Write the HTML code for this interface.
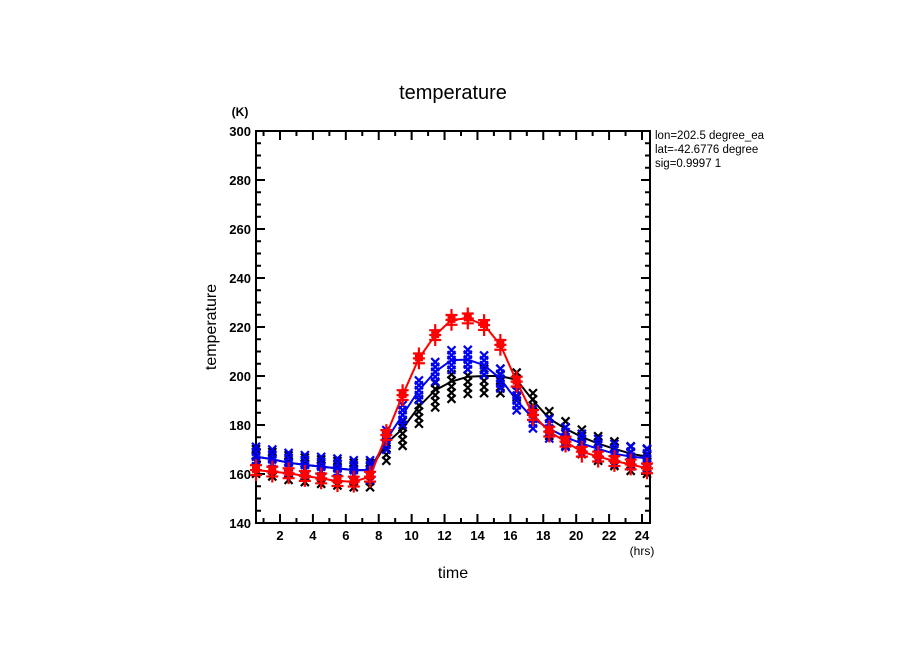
<!DOCTYPE html>
<html><head><meta charset="utf-8"><style>
html,body{margin:0;padding:0;background:#fff;}
svg{display:block;font-family:"Liberation Sans",sans-serif;}
</style></head><body>
<svg id="chart" width="904" height="654" viewBox="0 0 904 654">
<defs><clipPath id="infoclip"><rect x="650" y="125" width="129" height="50"/></clipPath></defs>
<text x="453" y="99" font-size="20" text-anchor="middle">temperature</text>
<text x="240" y="116" font-size="12" text-anchor="middle" font-weight="bold">(K)</text>
<text x="642" y="555" font-size="12" text-anchor="middle">(hrs)</text>
<text x="453" y="578" font-size="16" text-anchor="middle">time</text>
<text x="0" y="0" font-size="16" text-anchor="middle" transform="translate(216,327) rotate(-90)">temperature</text>
<g font-size="11.5" clip-path="url(#infoclip)">
<text x="655" y="139">lon=202.5 degree_ea</text>
<text x="655" y="153">lat=-42.6776 degree</text>
<text x="655" y="167">sig=0.9997 1</text>
</g>
<g id="axes"></g>
<g id="marks"></g>
</svg>
<script>
const hours=[0.5,1.5,2.5,3.5,4.5,5.5,6.5,7.5,8.5,9.5,10.5,11.5,12.5,13.5,14.5,15.5,16.5,17.5,18.5,19.5,20.5,21.5,22.5,23.5,24.5];
const redVals=[161.6,161.0,160.3,159.2,158.2,157.1,156.9,158.9,175.9,192.2,207.2,216.7,222.9,223.5,220.8,212.7,197.7,184.1,177.3,173.2,169.1,167.1,165.3,163.9,162.3];
const blueVals=[167.1,166.0,164.6,163.7,163.0,162.3,161.6,161.6,173.9,184.1,194.2,201.7,206.5,206.7,204.4,198.9,190.0,182.6,178.5,175.1,172.4,170.3,168.3,167.1,166.4];
const blackVals=[167.1,166.0,164.6,163.7,163.0,162.3,161.6,161.6,172.4,178.5,187.5,194.2,197.7,199.7,200.0,200.0,198.4,190.0,182.6,178.5,175.1,172.4,170.3,168.3,167.1];
const redSpread=[-2,0,2];
const blueSpread=[-4,-2,0,2,4];
const blackSpread=[-7,-4.5,-2,0.5,3];
const yTicks=[140,160,180,200,220,240,260,280,300];
const xTicks=[2,4,6,8,10,12,14,16,18,20,22,24];

const L=256,R=650,T=131,B=523;
const xs=h=>L+(h-0.5)/24*(R-L-3);
const ys=v=>B-(v-140)/160*(B-T);
const NS="http://www.w3.org/2000/svg";
function mk(tag,attrs,parent){const e=document.createElementNS(NS,tag);for(const k in attrs)e.setAttribute(k,attrs[k]);parent.appendChild(e);return e;}
const axes=document.getElementById('axes'),marks=document.getElementById('marks');
const xt=h=>280+(h-2)*(642-280)/22;

const frame=mk('rect',{x:L,y:T,width:R-L,height:B-T,fill:'none',stroke:'#000','stroke-width':2},axes);


for(let v=140;v<=300;v+=5){
  const major=v%20===0,len=major?9:5,y=ys(v);
  const t1=mk('line',{x1:L,x2:L+len,y1:y,y2:y,stroke:'#000','stroke-width':2},axes);
  
  
  const t2=mk('line',{x1:R,x2:R-len,y1:y,y2:y,stroke:'#000','stroke-width':2},axes);
  
  
}
yTicks.forEach(v=>{
  const t=mk('text',{x:L-5,y:ys(v)+5,'font-size':13,'font-weight':'bold','text-anchor':'end'},axes);
  t.textContent=v;
  
  
});
for(let h=1;h<=24;h++){
  const major=h%2===0,len=major?9:5,x=xt(h);
  const t1=mk('line',{x1:x,x2:x,y1:B,y2:B-len,stroke:'#000','stroke-width':2},axes);
  
  
  const t2=mk('line',{x1:x,x2:x,y1:T,y2:T+len,stroke:'#000','stroke-width':2},axes);
  
  
}
xTicks.forEach(h=>{
  const t=mk('text',{x:xt(h),y:B+17,'font-size':13,'font-weight':'bold','text-anchor':'middle'},axes);
  t.textContent=h;
  
  
});

function drawX(x,y,c){
  const p=mk('path',{d:`M${x-4},${y-4}L${x+4},${y+4}M${x+4},${y-4}L${x-4},${y+4}`,stroke:c,'stroke-width':2.2,fill:'none'},marks);
  
  
}
function drawPlus(x,y,c){
  const p=mk('path',{d:`M${x-6},${y}L${x+6},${y}M${x},${y-6}L${x},${y+6}`,stroke:c,'stroke-width':2.2,fill:'none'},marks);
  
  
}
function line(vals,c,name){
  const d=vals.map((v,i)=>(i?'L':'M')+xs(hours[i]).toFixed(1)+','+ys(v).toFixed(1)).join('');
  const p=mk('path',{d:d,stroke:c,'stroke-width':2,fill:'none'},marks);
  
  
}
blackVals.forEach((v,i)=>blackSpread.forEach(s=>drawX(xs(hours[i]),ys(v+s),'#000')));
line(blackVals,'#000','black-line');
blueVals.forEach((v,i)=>blueSpread.forEach(s=>drawX(xs(hours[i]),ys(v+s),'#0000ee')));
line(blueVals,'#0000ee','blue-line');
redVals.forEach((v,i)=>{
  const x=xs(hours[i]);
  redSpread.forEach(s=>drawPlus(x,ys(v+s),'#ff0000'));
  const r=mk('rect',{x:x-4,y:ys(v)-5,width:8,height:8,fill:'#ff0000'},marks);
  
  
});
line(redVals,'#ff0000','red-line');
</script>
</body></html>
